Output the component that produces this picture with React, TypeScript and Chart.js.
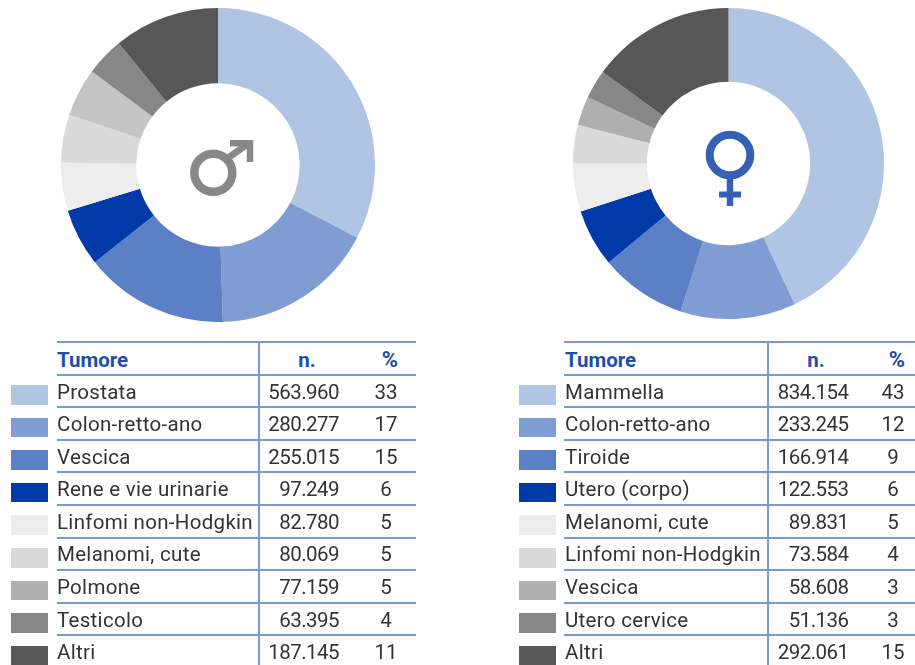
import React, { useEffect, useRef } from "react";
import { Chart, registerables } from "chart.js";

Chart.register(...registerables);

const maleLabels = ["Prostata", "Colon-retto-ano", "Vescica", "Rene e vie urinarie", "Linfomi non-Hodgkin", "Melanomi, cute", "Polmone", "Testicolo", "Altri"];
const maleCountText = ["563.960", "280.277", "255.015", "97.249", "82.780", "80.069", "77.159", "63.395", "187.145"];
const malePercents = [33, 17, 15, 6, 5, 5, 5, 4, 11];

const femaleLabels = ["Mammella", "Colon-retto-ano", "Tiroide", "Utero (corpo)", "Melanomi, cute", "Linfomi non-Hodgkin", "Vescica", "Utero cervice", "Altri"];
const femaleCountText = ["834.154", "233.245", "166.914", "122.553", "89.831", "73.584", "58.608", "51.136", "292.061"];
const femalePercents = [43, 12, 9, 6, 5, 4, 3, 3, 15];

const swatchColors = ["#B0C4E4", "#7F9CD3", "#5B80C5", "#003AA8", "#EDEDED", "#DADADA", "#AFAFAF", "#878787", "#575757"];
const maleSliceColors = ["#B0C4E4", "#7F9CD3", "#5B80C5", "#003AA8", "#EDEDED", "#DADADA", "#C5C5C5", "#878787", "#575757"];
const femaleSliceColors = swatchColors;

const FONT = "Roboto, sans-serif";
const LINE = "#7A98D4";
const HEADER = "#1D4FA8";
const INK = "#333333";

function Donut(p: { labels: string[]; values: number[]; colors: string[]; left: number; top: number; size: number; cutout: string }) {
  const ref = useRef<HTMLCanvasElement>(null);
  useEffect(() => {
    const chart = new Chart(ref.current!, {
      type: "doughnut",
      data: { labels: p.labels, datasets: [{ data: p.values, backgroundColor: p.colors, borderWidth: 0 }] },
      options: {
        animation: false,
        responsive: false,
        cutout: p.cutout,
        layout: { padding: 0 },
        plugins: { legend: { display: false }, tooltip: { enabled: false } },
      },
    });
    return () => chart.destroy();
  }, []);
  return <canvas ref={ref} width={p.size} height={p.size} style={{ position: "absolute", left: p.left, top: p.top, width: p.size, height: p.size }} />;
}

function Table(p: { labels: string[]; counts: string[]; percents: number[]; lineLeft: number; lineRight: number; labelLeft: number; divider: number; swatchLeft: number; countRight: number; pctCenter: number; nHead: number; pctHead: number }) {
  const rowH = 32.55;
  const top = 341.7;
  const abs = (o: React.CSSProperties): React.CSSProperties => ({ position: "absolute", whiteSpace: "nowrap", ...o });
  const lines = [];
  for (let i = 0; i < 10; i++) {
    lines.push(<div key={"l" + i} style={abs({ left: p.lineLeft, width: p.lineRight - p.lineLeft, top: Math.round(top + i * rowH - 0.5), height: 2, background: LINE })} />);
  }
  const textH = 30;
  const head: React.CSSProperties = { top: top + 3, height: textH, lineHeight: textH + "px", fontWeight: 700, color: HEADER, fontSize: 20.5 };
  return (
    <>
      {lines}
      <div style={abs({ left: p.divider - 1, width: 2, top: 342, height: 323, background: LINE })} />
      <div style={abs({ ...head, left: p.labelLeft })}>Tumore</div>
      <div style={abs({ ...head, left: p.nHead - 30, width: 60, textAlign: "center" })}>n.</div>
      <div style={abs({ ...head, left: p.pctHead - 30, width: 60, textAlign: "center", fontSize: 22 })}>%</div>
      {p.labels.map((label, i) => {
        const y = top + (i + 1) * rowH;
        const t: React.CSSProperties = { top: y + 2.4, height: textH, lineHeight: textH + "px", color: INK, fontSize: 20.5 };
        return (
          <React.Fragment key={label}>
            <div style={abs({ left: p.swatchLeft, top: y + 11, width: 36.5, height: 19.5, background: swatchColors[i] })} />
            <div style={abs({ ...t, left: p.labelLeft, letterSpacing: "0.3px" })}>{label}</div>
            <div style={abs({ ...t, left: p.countRight - 100, width: 100, textAlign: "right", letterSpacing: "-0.55px" })}>{p.counts[i]}</div>
            <div style={abs({ ...t, left: p.pctCenter - 30, width: 60, textAlign: "center" })}>{p.percents[i]}</div>
          </React.Fragment>
        );
      })}
    </>
  );
}

export default function App() {
  return (
    <div style={{ position: "absolute", left: 0, top: 0, width: 915, height: 665, overflow: "hidden", background: "#fff", fontFamily: FONT, filter: "blur(0.45px)" }}>
      <Donut labels={maleLabels} values={malePercents} colors={maleSliceColors} left={61} top={8} size={314} cutout="52%" />
      <Donut labels={femaleLabels} values={femalePercents} colors={femaleSliceColors} left={573} top={8} size={311} cutout="52.5%" />
      <svg width={915} height={335} style={{ position: "absolute", left: 0, top: 0 }}>
        <g fill="none" stroke="#888888">
          <circle cx={213.3} cy={172.7} r={19} strokeWidth={8.5} />
          <path d="M228 158 L249 143" strokeWidth={7} />
          <path d="M230 143.3 H250 V162" strokeWidth={6.5} />
        </g>
        <g fill="none" stroke="#3560B6">
          <circle cx={730} cy={155} r={20.3} strokeWidth={8} />
          <path d="M730 178 V206" strokeWidth={6.5} />
          <path d="M719 194.5 H741" strokeWidth={6} />
        </g>
      </svg>
      <Table labels={maleLabels} counts={maleCountText} percents={malePercents} lineLeft={57} labelLeft={57} lineRight={416} divider={259} swatchLeft={11} countRight={339} pctCenter={386} nHead={307} pctHead={390} />
      <Table labels={femaleLabels} counts={femaleCountText} percents={femalePercents} lineLeft={564} labelLeft={565} lineRight={915} divider={768} swatchLeft={519} countRight={848.5} pctCenter={893} nHead={816} pctHead={897} />
    </div>
  );
}
